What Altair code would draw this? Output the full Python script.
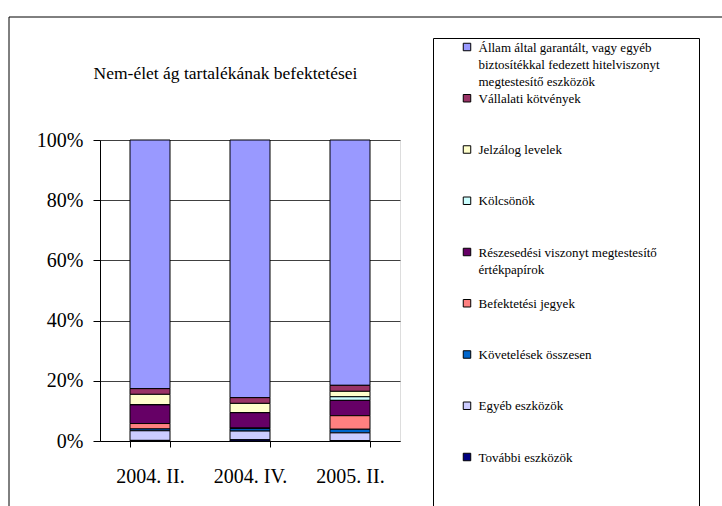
import altair as alt
import pandas as pd

# Periods on the x axis
periods = ["2004. II.", "2004. IV.", "2005. II."]

# Investment categories, listed top of the stack first
series = [
    "Állam által garantált, vagy egyéb biztosítékkal fedezett hitelviszonyt megtestesítő eszközök",
    "Vállalati kötvények",
    "Jelzálog levelek",
    "Kölcsönök",
    "Részesedési viszonyt megtestesítő értékpapírok",
    "Befektetési jegyek",
    "Követelések összesen",
    "Egyéb eszközök",
    "További eszközök",
]
colors = ["#9999FF", "#993366", "#FFFFCC", "#CCFFFF", "#660066",
          "#FF8080", "#0066CC", "#CCCCFF", "#000080"]

# Shares (%) per period
allam = [82.6, 85.6, 81.5]
vallalati = [1.9, 1.9, 2.0]
jelzalog = [3.5, 3.1, 1.8]
kolcsonok = [0.0, 0.0, 1.2]
reszesedesi = [6.2, 5.1, 5.1]
befektetesi = [1.8, 0.2, 4.5]
kovetelesek = [0.6, 0.8, 1.2]
egyeb = [3.2, 2.9, 2.6]
tovabbi = [0.2, 0.4, 0.1]
values = [allam, vallalati, jelzalog, kolcsonok, reszesedesi,
          befektetesi, kovetelesek, egyeb, tovabbi]

title_text = "Nem-élet ág tartalékának befektetései"

# Legend label wrapping
wrapped = {
    series[0]: "Állam által garantált, vagy egyéb\nbiztosítékkal fedezett hitelviszonyt\nmegtestesítő eszközök",
    series[4]: "Részesedési viszonyt megtestesítő\nértékpapírok",
}
labels = [wrapped.get(s, s) for s in series]

rows = []
for i, (s, vals) in enumerate(zip(series, values)):
    for p, v in zip(periods, vals):
        rows.append({"series": s, "idx": i, "period": p, "value": v})
df = pd.DataFrame(rows)

leg = pd.DataFrame({"series": series, "label": labels, "col": [0] * len(series)})

FONT = "Liberation Serif"
color_scale = alt.Scale(domain=series, range=colors)

bars = alt.Chart(df).mark_bar(stroke="black", strokeWidth=1).encode(
    x=alt.X("period:N", sort=periods,
            scale=alt.Scale(paddingInner=0.6, paddingOuter=0.3),
            axis=alt.Axis(title=None, labelAngle=0, tickBand="extent",
                          labelFont=FONT, labelFontSize=20, labelColor="black",
                          labelPadding=19, tickSize=6, tickColor="black",
                          domainColor="black", grid=False)),
    y=alt.Y("value:Q", stack="normalize", scale=alt.Scale(domain=[0, 1]),
            axis=alt.Axis(title=None, format=".0%",
                          values=[0, 0.2, 0.4, 0.6, 0.8, 1.0],
                          labelFont=FONT, labelFontSize=20, labelColor="black",
                          labelPadding=10, tickSize=7, tickColor="black",
                          domainColor="black", grid=True, gridColor="#404040",
                          gridOpacity=1)),
    color=alt.Color("series:N", scale=color_scale, legend=None),
    order=alt.Order("idx:Q", sort="descending"),
)

one = pd.DataFrame({"a": [0]})

# Chart area frame and legend frame
frame = alt.Chart(one).mark_rect(fill="white", fillOpacity=0, stroke="black",
                                 strokeWidth=1).encode(
    x=alt.value(-91), x2=alt.value(640), y=alt.value(-123), y2=alt.value(380))
legend_box = alt.Chart(one).mark_rect(fill="white", fillOpacity=0, stroke="black",
                                      strokeWidth=1).encode(
    x=alt.value(333.5), x2=alt.value(599.5), y=alt.value(-101.5), y2=alt.value(380))

# Legend entries: swatches placed on a point scale, labels drawn by its axis;
# the top axis of this layer carries the chart title
leg_sym = alt.Chart(leg).mark_square(size=56, filled=True, stroke="black",
                                     strokeWidth=1, opacity=1).encode(
    x=alt.X("col:Q", scale=alt.Scale(domain=[0, 1], range=[367, 367]),
            axis=alt.Axis(orient="top", domain=False, ticks=False, labels=False,
                          grid=False, title=title_text, titleFont=FONT,
                          titleFontSize=17.5, titleFontWeight="normal",
                          titleColor="black", titleX=125, titleY=-67,
                          titleAlign="center", titleBaseline="middle")),
    y=alt.Y("label:N", sort=labels,
            scale=alt.Scale(type="point", range=[-93, 317], padding=0),
            axis=alt.Axis(orient="right", offset=78, title=None, domain=False,
                          ticks=False, grid=False, labelPadding=0,
                          labelFont=FONT, labelFontSize=13, labelColor="black",
                          labelAlign="left", labelBaseline="top", labelOffset=-6,
                          labelLineHeight=17, labelLimit=0, labelOverlap=False,
                          labelBound=False,
                          labelExpr="split(datum.label, '\\n')")),
    color=alt.Color("series:N", scale=color_scale, legend=None),
)

chart = alt.layer(frame, legend_box, bars, leg_sym).resolve_scale(
    x="independent", y="independent"
).properties(
    width=300, height=301,
    autosize=alt.AutoSizeParams(type="none"),
    padding={"left": 100, "top": 140, "right": 322, "bottom": 65},
).configure_view(stroke=None).configure(background="white")

chart.save("out.html", embed_options={"renderer": "svg", "actions": False})
